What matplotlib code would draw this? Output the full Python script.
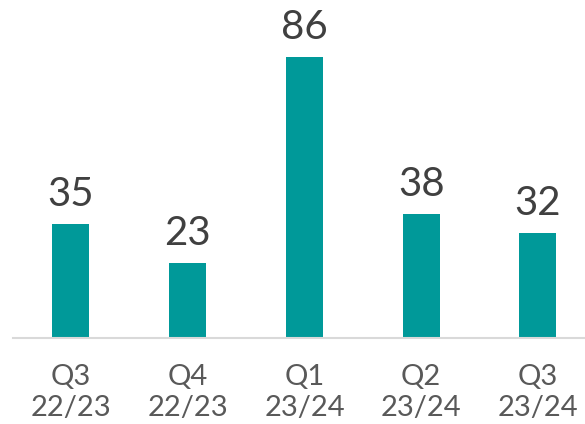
import matplotlib
matplotlib.use("Agg")
import matplotlib.pyplot as plt

categories = ["Q3\n22/23", "Q4\n22/23", "Q1\n23/24", "Q2\n23/24", "Q3\n23/24"]
values = [35, 23, 86, 38, 32]

W, H = 585, 424
fig = plt.figure(figsize=(W / 100, H / 100), dpi=100)
plt.rcParams['font.family'] = ['Lato', 'DejaVu Sans']

left = 12.6 / W
width = 583.75 / W
bottom = (H - 338) / H
height = 338 / H
ax = fig.add_axes([left, bottom, width, height])

bar_color = "#009999"
x = list(range(len(categories)))
ax.bar(x, values, width=0.317, color=bar_color)
ax.set_xlim(-0.5, len(categories) - 0.5)
ax.set_ylim(0, 103.5)

for xi, v in zip(x, values):
    ax.annotate(str(v), (xi, v), xytext=(0, 8), textcoords="offset points",
                ha="center", va="bottom", fontsize=29, color="#404040")

for s in ["top", "right", "left"]:
    ax.spines[s].set_visible(False)
ax.spines["bottom"].set_color("#d9d9d9")
ax.spines["bottom"].set_linewidth(1.5)
ax.set_yticks([])
ax.set_xticks(x)
ax.set_xticklabels(categories, fontsize=21, color="#595959", linespacing=1.2)
ax.tick_params(axis="x", length=0, pad=19)
ax.patch.set_alpha(0)

fig.savefig("out.png", dpi=100)
